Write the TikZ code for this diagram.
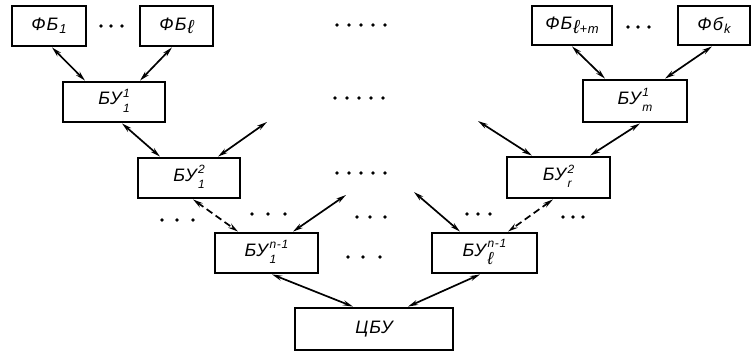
\documentclass[tikz,border=0pt]{standalone}
\usepackage{fix-cm}
\usepackage{amsmath}
\usepackage{graphicx}
\usepackage{fontspec}
\setmainfont{Liberation Sans}
\usetikzlibrary{arrows.meta,calc}
\newcommand\dotrow[2]{\foreach \xx in {#1} \fill (\xx,#2) circle (1.9pt);}
\newcommand\supsub[2]{\kern1.5pt{\fontsize{12}{14.5}\selectfont\begin{tabular}{@{}l@{}}#1\\#2\end{tabular}}}
\newcommand\subonly[1]{\kern1pt\raisebox{-3.5pt}{\fontsize{13}{13}\selectfont #1}}
\newcommand\ellx{\scalebox{1.45}{ℓ}}
\begin{document}
\begin{tikzpicture}[x=1pt,y=-1pt,
  box/.style={draw,line width=2.8pt,minimum height=40pt,inner sep=0pt,
    font=\fontsize{18}{20}\selectfont\itshape\addfontfeatures{LetterSpace=6}},
  link/.style={line width=1.7pt,{Stealth[length=10pt,width=5pt]}-{Stealth[length=10pt,width=5pt]}},
  dlink/.style={link,dash pattern=on 7pt off 4pt}]
\useasboundingbox (0,0) rectangle (753,353);

% top row
\node[box,minimum width=74pt] (fb1) at (49,26) {ФБ\subonly{1}};
\node[box,minimum width=73pt] (fbl) at (176.5,26) {ФБ\subonly{\ellx}};
\node[box,minimum width=80pt,minimum height=39pt] (fblm) at (572,25.5) {ФБ\subonly{\ellx+m}};
\node[box,minimum width=72pt,minimum height=39pt] (fbk) at (714,25.5) {Фб\subonly{k}};

% level 1
\node[box,minimum width=102pt] (bu11) at (114,102) {БУ\supsub{1}{1}};
\node[box,minimum width=104pt,minimum height=42pt] (bum) at (635,101) {БУ\supsub{1}{m}};

% level 2
\node[box,minimum width=102pt] (bu12) at (189,178) {БУ\supsub{2}{1}};
\node[box,minimum width=103pt,minimum height=41pt] (bur) at (558.5,177.5) {БУ\supsub{2}{r}};

% level n-1
\node[box,minimum width=103pt] (bu1n) at (266.5,253) {БУ\supsub{n-1}{1}};
\node[box,minimum width=105pt] (buln) at (484.5,253) {БУ\supsub{n-1}{\ellx}};

% root
\node[box,minimum width=158pt,minimum height=42pt] (cbu) at (374,329) {ЦБУ};

% free ends
\coordinate (f1) at (267,122);
\coordinate (f2) at (346,195);
\coordinate (f3) at (478,121);
\coordinate (f4) at (414,192);

% connectors
\draw[link] ([xshift=3pt]fb1.south) -- ([xshift=-29pt]bu11.north);
\draw[link] ([xshift=-4.5pt]fbl.south) -- ([xshift=26pt]bu11.north);
\draw[link] (fblm.south) -- ([xshift=-30pt]bum.north);
\draw[link] ([xshift=-2pt]fbk.south) -- ([xshift=30pt]bum.north);
\draw[link] ([xshift=8pt]bu11.south) -- ([xshift=-29pt]bu12.north);
\draw[link] ([xshift=29pt]bu12.north) -- (f1);
\draw[dlink] ([xshift=4pt]bu12.south) -- ([xshift=-28.5pt]bu1n.north);
\draw[link] ([xshift=26.5pt]bu1n.north) -- (f2);
\draw[link] (f3) -- ([xshift=-26.5pt]bur.north);
\draw[link] ([xshift=5pt]bum.south) -- ([xshift=31.5pt]bur.north);
\draw[link] (f4) -- ([xshift=-24.5pt]buln.north);
\draw[dlink] ([xshift=-5.5pt]bur.south) -- ([xshift=23.5pt]buln.north);
\draw[link] ([xshift=5.5pt]bu1n.south) -- ([xshift=-21pt]cbu.north);
\draw[link] ([xshift=-4.5pt]buln.south) -- ([xshift=34pt]cbu.north);

% dots
\dotrow{101,111,122}{26}
\dotrow{628,638,649}{27}
\dotrow{337,349,361,373,385}{25}
\dotrow{335,347,359,371,383}{98}
\dotrow{337,349,361,373,385}{173}
\dotrow{162,177,193}{220}
\dotrow{252,268,285}{214}
\dotrow{357,370,385}{217}
\dotrow{348,363,380}{257}
\dotrow{467,478,490}{214}
\dotrow{563,573,583}{217}
\end{tikzpicture}
\end{document}
